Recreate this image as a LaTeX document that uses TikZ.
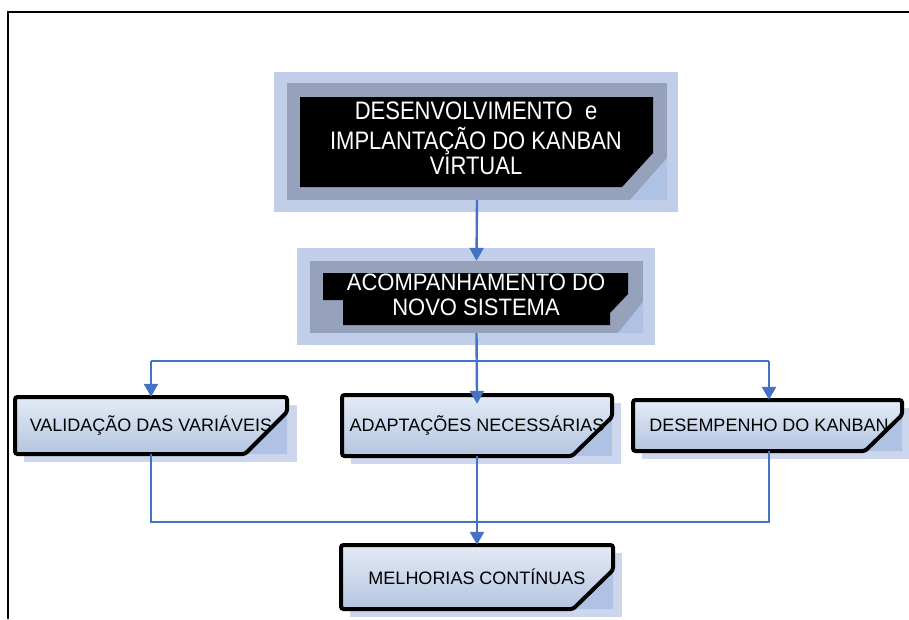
\documentclass[tikz,border=0pt]{standalone}
\usepackage{fontspec}
\setmainfont{Liberation Sans}
\usetikzlibrary{arrows.meta}
\definecolor{connblue}{RGB}{68,114,196}
\definecolor{outerlight}{RGB}{192,206,234}
\definecolor{bandc}{RGB}{150,162,188}
\definecolor{foldc}{RGB}{176,194,228}
\definecolor{shadowc}{RGB}{204,215,238}
\definecolor{boxtop}{RGB}{228,235,246}
\definecolor{boxbot}{RGB}{180,197,224}
\tikzset{
  conn/.style={draw=connblue, line width=2.4pt},
  arr/.style={conn, -{Triangle[length=13pt,width=14pt]}},
  bandnode/.style={rectangle, inner sep=0pt, fill=bandc},
  bignode/.style={inner sep=0pt, align=center, text=white},
  boxnode/.style={rectangle, inner sep=0pt, align=center, font=\fontsize{18}{20}\selectfont},
  boxborder/.style={draw=black, line width=4pt, rounded corners=2.5pt},
  boxfill/.style={top color=boxtop, bottom color=boxbot},
}
\begin{document}
\begin{tikzpicture}[x=1pt,y=-1pt]
\useasboundingbox (0,0) rectangle (909,619);
% frame
\draw[line width=2.4pt] (8,619) -- (8,12) -- (909,12);

% ---- top box
\fill[outerlight] (274,72) rectangle (678,212);
\node[bandnode, minimum width=380pt, minimum height=117pt] (dev) at (477,141.5) {};
\fill[foldc] (667,158) -- (667,200) -- (630,200) -- cycle;
\fill[black] (300,97) -- (653,97) -- (653,153) -- (622,187) -- (300,187) -- cycle;
\begin{scope}
\clip (300,90) rectangle (622,195);
\node[bignode] (devtxt) at (476,142) {\scalebox{1}[1.15]{\fontsize{22}{22}\selectfont\begin{tabular}{@{}c@{}}DESENVOLVIMENTO\ \ e\\IMPLANTAÇÃO DO KANBAN\\VIRTUAL\end{tabular}}};
\end{scope}

% ---- second box
\fill[outerlight] (297,248) rectangle (655,345);
\node[bandnode, minimum width=333pt, minimum height=72pt] (acomp) at (476.5,297) {};
\fill[foldc] (643,302) -- (643,333) -- (618,333) -- cycle;
\fill[black] (323,273) -- (628,273) -- (628,294) -- (610,313) -- (610,325) -- (343,325) -- (343,300) -- (323,300) -- cycle;
\begin{scope}
\clip (320,265) rectangle (605,330);
\node[bignode] (acomptxt) at (476,298) {\scalebox{1}[1.08]{\fontsize{22}{22.5}\selectfont\begin{tabular}{@{}c@{}}ACOMPANHAMENTO DO\\NOVO SISTEMA\end{tabular}}};
\end{scope}

% ---- bottom boxes: shadows, folds, fills
\fill[shadowc] (24,405) rectangle (297,462);
\fill[foldc] (287,412) -- (287,454) -- (245,454) -- cycle;
\shade[boxfill] (15,397) -- (287,397) -- (287,412) -- (245,454) -- (15,454) -- cycle;

\fill[shadowc] (351,403) rectangle (621,464);
\fill[foldc] (612,417) -- (612,456) -- (572,456) -- cycle;
\shade[boxfill] (342,395) -- (612,395) -- (612,417) -- (572,456) -- (342,456) -- cycle;

\fill[shadowc] (642,408) rectangle (909,459);
\fill[foldc] (902,415) -- (902,451) -- (865,451) -- cycle;
\shade[boxfill] (633,400) -- (902,400) -- (902,415) -- (865,451) -- (633,451) -- cycle;

\fill[shadowc] (350,553) rectangle (622,617);
\fill[foldc] (613,570) -- (613,609) -- (573,609) -- cycle;
\shade[boxfill] (341,545) -- (613,545) -- (613,570) -- (573,609) -- (341,609) -- cycle;

% text nodes
\node[boxnode, minimum width=272pt, minimum height=57pt] (val) at (151,425.5) {VALIDAÇÃO DAS VARIÁVEIS};
\node[boxnode, minimum width=270pt, minimum height=61pt] (ada) at (477,425.5) {ADAPTAÇÕES NECESSÁRIAS};
\node[boxnode, minimum width=269pt, minimum height=51pt] (des) at (769,425.5) {DESEMPENHO DO KANBAN};
\node[boxnode, minimum width=272pt, minimum height=64pt] (mel) at (477,577) {MELHORIAS CONTÍNUAS};

% borders
\draw[boxborder] (15,397) -- (287,397) -- (287,412) -- (245,454) -- (15,454) -- cycle;
\draw[boxborder] (342,395) -- (612,395) -- (612,417) -- (572,456) -- (342,456) -- cycle;
\draw[boxborder] (633,400) -- (902,400) -- (902,415) -- (865,451) -- (633,451) -- cycle;
\draw[boxborder] (341,545) -- (613,545) -- (613,570) -- (573,609) -- (341,609) -- cycle;

% connectors
\coordinate (bus1) at (476,361);
\coordinate (bus2) at (476,522);
\draw[arr] (dev.south) -- (acomp.north);
\draw[conn] (bus1 -| val.north) -- (bus1 -| des.north);
\draw[arr] (bus1 -| val.north) -- (val.north);
\draw[arr] (bus1 -| des.north) -- (des.north);
\draw[arr, shorten >=-9pt] (acomp.south) -- (ada.north);
\draw[conn] (val.south) -- (val.south |- bus2) -- (des.south |- bus2) -- (des.south);
\draw[arr] (ada.south) -- (mel.north);
\end{tikzpicture}
\end{document}
